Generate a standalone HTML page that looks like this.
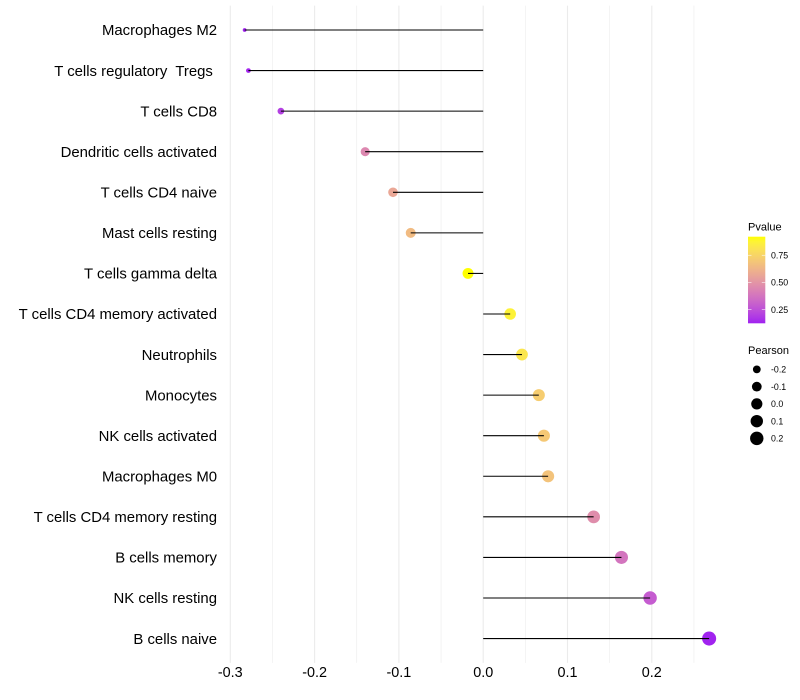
<!DOCTYPE html>
<html lang="en">
<head>
<meta charset="utf-8">
<title>Immune cell correlation lollipop chart</title>
<style>
  html, body { margin: 0; padding: 0; background: #fff; }
  body { width: 800px; height: 700px; overflow: hidden; }
  svg { display: block; font-family: "Liberation Sans", Arial, sans-serif; }
  text { white-space: pre; fill: #000; }
</style>
</head>
<body>
<svg id="chart" xmlns="http://www.w3.org/2000/svg" width="800" height="700" viewBox="0 0 800 700"></svg>
<script>
const categories = [
  "Macrophages M2", "T cells regulatory  Tregs ", "T cells CD8", "Dendritic cells activated",
  "T cells CD4 naive", "Mast cells resting", "T cells gamma delta", "T cells CD4 memory activated",
  "Neutrophils", "Monocytes", "NK cells activated", "Macrophages M0",
  "T cells CD4 memory resting", "B cells memory", "NK cells resting", "B cells naive"
];
const pearson = [-0.283, -0.2785, -0.24, -0.14, -0.107, -0.086, -0.018, 0.032, 0.046, 0.066, 0.072, 0.077, 0.131, 0.164, 0.198, 0.268];
const pvalue = [0.125, 0.135, 0.2, 0.45, 0.57, 0.65, 0.92, 0.87, 0.82, 0.72, 0.7, 0.68, 0.47, 0.38, 0.29, 0.13];
const xMajorTicks = [-0.3, -0.2, -0.1, 0, 0.1, 0.2];
const xMinorTicks = [-0.25, -0.15, -0.05, 0.05, 0.15, 0.25];
const pvalueTicks = [0.25, 0.5, 0.75];
const pearsonLegend = [-0.2, -0.1, 0, 0.1, 0.2];

const svg = document.getElementById('chart');
const NS = 'http://www.w3.org/2000/svg';

function make(tag, attrs, parent) {
  const el = document.createElementNS(NS, tag);
  for (const k in attrs) el.setAttribute(k, attrs[k]);
  (parent || svg).appendChild(el);
  return el;
}

/* axis functions */
const xScale = v => 483.2 + v * 843;
const yScale = i => 30 + i * 40.57;
const panelTop = yScale(0) - 0.6 * 40.57;
const panelBottom = yScale(categories.length - 1) + 0.6 * 40.57;

/* size scale: area-proportional radius */
const pearsonMin = Math.min(...pearson);
const pearsonMax = Math.max(...pearson);
const sizeScale = v => 1.9 + 5.15 * Math.sqrt(Math.max(0, (v - pearsonMin) / (pearsonMax - pearsonMin)));

/* colour scale: Lab interpolation from purple to yellow */
const pvalueMin = Math.min(...pvalue);
const pvalueMax = Math.max(...pvalue);
function rgb2lab(c) {
  const l = c.map(u => { u /= 255; return u > 0.04045 ? Math.pow((u + 0.055) / 1.055, 2.4) : u / 12.92; });
  const X = (0.4124 * l[0] + 0.3576 * l[1] + 0.1805 * l[2]) / 0.95047;
  const Y = 0.2126 * l[0] + 0.7152 * l[1] + 0.0722 * l[2];
  const Z = (0.0193 * l[0] + 0.1192 * l[1] + 0.9505 * l[2]) / 1.08883;
  const f = t => t > 0.008856 ? Math.cbrt(t) : 7.787 * t + 16 / 116;
  return [116 * f(Y) - 16, 500 * (f(X) - f(Y)), 200 * (f(Y) - f(Z))];
}
function lab2css(L) {
  const fy = (L[0] + 16) / 116, fx = fy + L[1] / 500, fz = fy - L[2] / 200;
  const g = t => t * t * t > 0.008856 ? t * t * t : (t - 16 / 116) / 7.787;
  const X = g(fx) * 0.95047, Y = g(fy), Z = g(fz) * 1.08883;
  const lin = [3.2406 * X - 1.5372 * Y - 0.4986 * Z, -0.9689 * X + 1.8758 * Y + 0.0415 * Z, 0.0557 * X - 0.204 * Y + 1.057 * Z];
  const s = lin.map(u => {
    u = Math.min(1, Math.max(0, u));
    return Math.round(255 * (u > 0.0031308 ? 1.055 * Math.pow(u, 1 / 2.4) - 0.055 : 12.92 * u));
  });
  return 'rgb(' + s.join(',') + ')';
}
const labLow = rgb2lab([160, 32, 240]);
const labHigh = rgb2lab([255, 255, 0]);
function colorAt(t) {
  t = Math.min(1, Math.max(0, t));
  return lab2css(labLow.map((a, i) => a + (labHigh[i] - a) * t));
}
const colorScale = p => colorAt((p - pvalueMin) / (pvalueMax - pvalueMin));

/* background */
const bg = make('rect', { x: 0, y: 0, width: 800, height: 700, fill: '#ffffff' });



/* gridlines */
const grid = make('g', {});


xMinorTicks.forEach(v => {
  const l = make('line', { x1: xScale(v), x2: xScale(v), y1: panelTop, y2: panelBottom, stroke: '#ebebeb', 'stroke-width': 0.55 }, grid);
  
  
});
xMajorTicks.forEach(v => {
  const l = make('line', { x1: xScale(v), x2: xScale(v), y1: panelTop, y2: panelBottom, stroke: '#ebebeb', 'stroke-width': 1.07 }, grid);
  
  
});

/* points */
const points = make('g', {});


categories.forEach((c, i) => {
  const p = make('circle', { cx: xScale(pearson[i]), cy: yScale(i), r: sizeScale(pearson[i]), fill: colorScale(pvalue[i]) }, points);
  
  
});

/* segments, drawn above the points */
const segments = make('g', {});


categories.forEach((c, i) => {
  const s = make('line', { x1: xScale(0), x2: xScale(pearson[i]), y1: yScale(i), y2: yScale(i), stroke: '#000', 'stroke-width': 1.07 }, segments);
  
  
});

/* y axis labels */
const yAxis = make('g', {});


categories.forEach((c, i) => {
  const t = make('text', { x: 217, y: yScale(i) + 5.2, 'text-anchor': 'end', 'font-size': 14.9 }, yAxis);
  t.textContent = c;
  
  
});

/* x axis labels */
const xAxis = make('g', {});


xMajorTicks.forEach(v => {
  const t = make('text', { x: xScale(v), y: 677, 'text-anchor': 'middle', 'font-size': 14.4 }, xAxis);
  t.textContent = v === 0 ? '0.0' : v.toFixed(1);
  
  
});

/* Pvalue legend */
const pLegend = make('g', {});


const pTitle = make('text', { x: 748, y: 230.5, 'font-size': 11 }, pLegend);
pTitle.textContent = 'Pvalue';



const barTop = 236.7, barBottom = 323.3, barLeft = 748, barWidth = 17.3;
const defs = make('defs', {});
const grad = make('linearGradient', { id: 'pvalue-gradient', x1: 0, y1: 1, x2: 0, y2: 0 }, defs);
for (let k = 0; k <= 20; k++) {
  make('stop', { offset: k / 20, 'stop-color': colorAt(k / 20) }, grad);
}
const bar = make('rect', { x: barLeft, y: barTop, width: barWidth, height: barBottom - barTop, fill: 'url(#pvalue-gradient)' }, pLegend);


const barScale = p => barBottom - (p - pvalueMin) / (pvalueMax - pvalueMin) * (barBottom - barTop);
pvalueTicks.forEach(p => {
  const y = barScale(p);
  const a = make('line', { x1: barLeft, x2: barLeft + 3.5, y1: y, y2: y, stroke: '#fff', 'stroke-width': 0.55 }, pLegend);
  
  
  const b = make('line', { x1: barLeft + barWidth - 3.5, x2: barLeft + barWidth, y1: y, y2: y, stroke: '#fff', 'stroke-width': 0.55 }, pLegend);
  
  
  const t = make('text', { x: 771, y: y + 3.1, 'font-size': 8.8 }, pLegend);
  t.textContent = p.toFixed(2);
  
  
});

/* Pearson legend */
const sLegend = make('g', {});


const sTitle = make('text', { x: 748, y: 354, 'font-size': 11 }, sLegend);
sTitle.textContent = 'Pearson';


pearsonLegend.forEach((v, i) => {
  const y = 369.4 + i * 17.25;
  const c = make('circle', { cx: 756.8, cy: y, r: sizeScale(v), fill: '#000' }, sLegend);
  
  
  const t = make('text', { x: 771, y: y + 3.1, 'font-size': 8.8 }, sLegend);
  t.textContent = v.toFixed(1);
  
  
});
</script>
</body>
</html>
